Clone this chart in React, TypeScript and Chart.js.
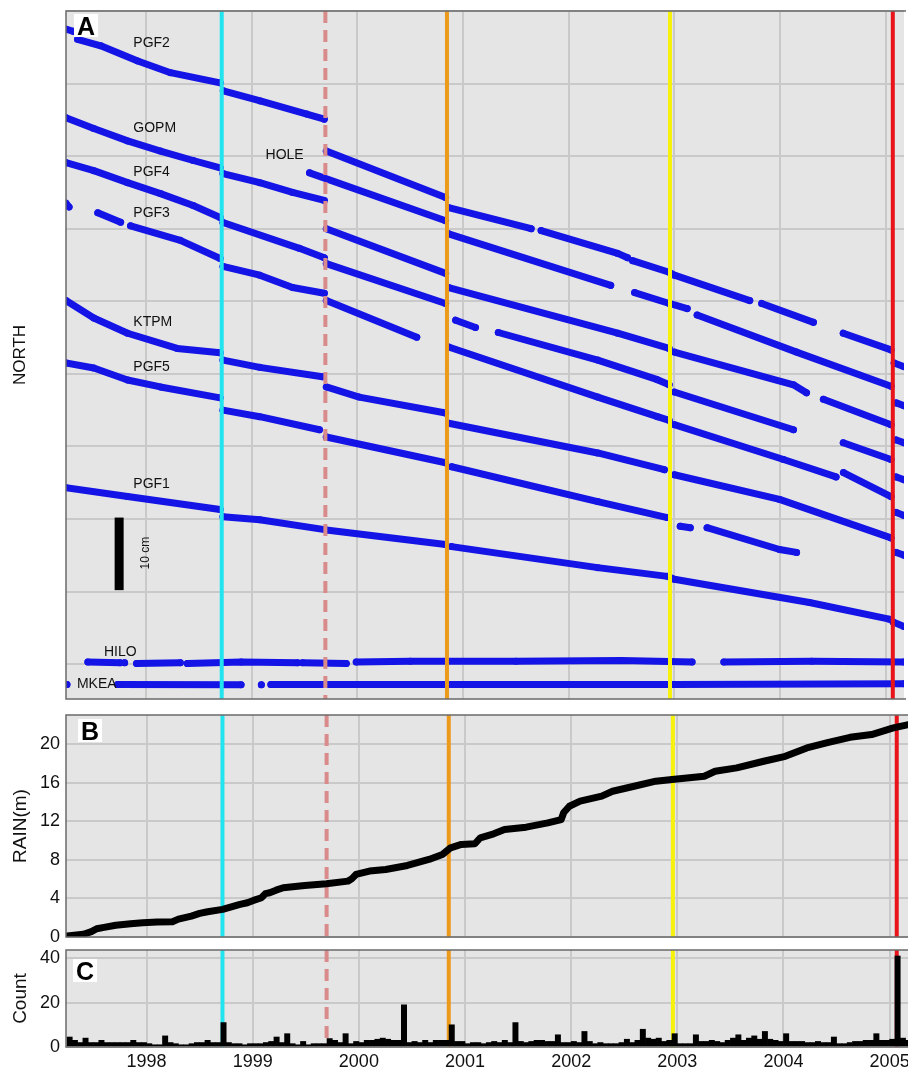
import React, { useEffect, useRef } from "react";
import { Chart, registerables } from "chart.js";

Chart.register(...registerables);

type Pt = [number, number] | null;

// ---------------- data ----------------
const X_MIN = 1997.241;
const X_MAX = 2005.173;
const YEAR_TICKS = [1998, 1999, 2000, 2001, 2002, 2003, 2004, 2005];

const EVENT_YEARS = [1998.715, 1999.696, 2000.847, 2002.958, 2005.067];

const NORTH_TICKS = [0, 10, 20, 30, 40, 50, 60, 70, 80, 90];
const RAIN_TICKS = [0, 4, 8, 12, 16, 20];
const COUNT_TICKS = [0, 20, 40];

// GPS north position (cm, arbitrary offsets per station), null = data gap
const PGF2: Pt[] = [
  [1997.24, 87.5], [1997.31, 87.2], null,
  [1997.35, 86.1], [1997.57, 85.2], [1997.92, 83.1], [1998.23, 81.5], [1998.7, 80.1], null,
  [1998.73, 79.0], [1999.08, 77.6], [1999.52, 75.8], [1999.686, 75.1], null,
  [1999.705, 70.7], [2000.834, 64.3], null,
  [2000.863, 62.9], [2001.644, 60.0], null,
  [2001.738, 59.75], [2002.463, 56.6], [2002.557, 56.0], null,
  [2002.604, 55.6], [2002.95, 54.0], [2003.0, 53.6], [2003.713, 50.1], null,
  [2003.826, 49.7], [2004.316, 47.1], null,
  [2004.598, 45.6], [2005.05, 43.3], null,
  [2005.08, 41.5], [2005.173, 41.0],
];
const GOPM: Pt[] = [
  [1997.241, 75.3], [1997.504, 73.8], [1997.824, 72.1], [1998.135, 70.7], [1998.445, 69.4], [1998.7, 68.4], null,
  [1998.727, 67.6], [1999.075, 66.35], [1999.386, 65.0], [1999.686, 63.9], null,
  [1999.705, 60.0], [2000.834, 53.85], null,
  [2000.863, 51.9], [2002.463, 45.6], [2002.95, 43.5], null,
  [2002.999, 43.0], [2004.127, 38.5], [2004.25, 37.4], null,
  [2004.41, 36.5], [2005.05, 33.0], null,
  [2005.1, 30.9], [2005.173, 30.5],
];
const HOLE: Pt[] = [
  [1999.546, 67.7], [2000.834, 61.1], null,
  [2000.863, 59.3], [2002.397, 52.2], null,
  [2002.623, 51.2], [2002.952, 49.7], [2003.121, 49.0], null,
  [2003.215, 48.1], [2004.156, 43.0], [2005.05, 38.3], null,
  [2005.1, 36.0], [2005.173, 35.6],
];
const PGF4: Pt[] = [
  [1997.241, 69.1], [1997.504, 68.0], [1997.824, 66.35], [1998.135, 64.84], [1998.445, 63.19], [1998.7, 61.54], null,
  [1998.727, 60.85], [1999.45, 57.3], [1999.686, 56.0], null,
  [1999.705, 55.2], [2000.834, 49.7], null,
  [2000.929, 47.4], [2001.117, 46.4], null,
  [2001.333, 45.7], [2002.274, 41.9], [2002.839, 39.2], [2002.95, 38.5], null,
  [2002.999, 37.5], [2004.127, 32.3], null,
  [2004.598, 30.5], [2005.05, 28.2], null,
  [2005.1, 25.8], [2005.173, 25.4],
];
const PGF3: Pt[] = [
  [1997.241, 63.5], [1997.27, 63.0], null,
  [1997.542, 62.2], [1997.758, 60.9], null,
  [1997.852, 60.4], [1998.323, 58.4], [1998.7, 55.9], null,
  [1998.727, 54.8], [1999.075, 53.6], [1999.386, 51.9], [1999.686, 51.1], null,
  [1999.705, 50.1], [2000.561, 45.05], null,
  [2000.863, 43.7], [2002.274, 36.8], [2002.839, 34.1], [2002.95, 33.6], null,
  [2002.999, 33.0], [2004.033, 28.2], [2004.53, 25.8], null,
  [2004.6, 26.4], [2005.05, 23.1], null,
  [2005.1, 20.9], [2005.173, 20.5],
];
const KTPM: Pt[] = [
  [1997.241, 50.1], [1997.504, 47.7], [1997.824, 45.6], [1998.294, 43.5], [1998.7, 42.9], null,
  [1998.727, 41.9], [1999.075, 40.9], [1999.668, 39.6], null,
  [1999.705, 38.2], [2000.016, 36.8], [2000.834, 34.6], null,
  [2000.863, 33.2], [2002.274, 29.1], [2002.905, 26.8], null,
  [2002.999, 26.1], [2003.995, 22.7], [2005.05, 17.4], null,
  [2005.1, 15.4], [2005.173, 15.0],
];
const PGF5: Pt[] = [
  [1997.241, 41.5], [1997.504, 40.8], [1997.824, 39.15], [1998.135, 38.2], [1998.7, 36.7], null,
  [1998.727, 35.0], [1999.075, 34.1], [1999.64, 32.3], null,
  [1999.705, 31.3], [2000.834, 27.75], null,
  [2000.891, 27.2], [2002.274, 22.4], [2002.933, 20.2], null,
  [2003.055, 19.0], [2003.15, 18.8], null,
  [2003.309, 18.8], [2003.995, 15.8], [2004.156, 15.4],
];
const PGF1: Pt[] = [
  [1997.241, 24.3], [1997.824, 23.1], [1998.7, 21.3], null,
  [1998.727, 20.3], [1999.075, 19.9], [1999.705, 18.5], [2000.834, 16.5], null,
  [2000.891, 16.2], [2002.274, 13.3], [2002.933, 12.1], [2002.999, 11.7], [2004.278, 8.5], [2005.033, 6.2], null,
  [2005.07, 5.8], [2005.173, 5.2],
];
const HILO: Pt[] = [
  [1997.448, 0.3], [1997.754, 0.2], null,
  [1997.796, 0.2], null,
  [1997.909, 0.1], [1998.323, 0.2], null,
  [1998.389, 0.1], [1998.9, 0.3], [1999.433, 0.2], null,
  [1999.48, 0.2], [1999.894, 0.1], null,
  [1999.988, 0.3], [2000.5, 0.4], [2001.5, 0.4], [2002.5, 0.5], [2003.167, 0.3], null,
  [2003.468, 0.3], [2004.3, 0.4], [2005.173, 0.3],
];
const MKEA: Pt[] = [
  [1997.25, -2.8], null,
  [1997.73, -2.8], [1998.898, -2.85], null,
  [1999.09, -2.85], null,
  [1999.18, -2.8], [2001.0, -2.8], [2003.0, -2.8], [2005.173, -2.7],
];

const STATION_NAMES = ["PGF2", "GOPM", "HOLE", "PGF4", "PGF3", "KTPM", "PGF5", "PGF1", "HILO", "MKEA"];
const STATION_SERIES = [PGF2, GOPM, HOLE, PGF4, PGF3, KTPM, PGF5, PGF1, HILO, MKEA];

// Cumulative rain (m)
const RAIN_YEAR = [
  1997.252, 1997.405, 1997.48, 1997.53, 1997.6, 1997.71, 1997.85, 1997.964, 1998.1, 1998.244,
  1998.3, 1998.422, 1998.5, 1998.575, 1998.717, 1998.88, 1998.95, 1999.007, 1999.083, 1999.12,
  1999.16, 1999.22, 1999.287, 1999.49, 1999.694, 1999.897, 1999.93, 1999.973, 2000.1, 2000.253,
  2000.457, 2000.66, 2000.787, 2000.864, 2000.965, 2001.093, 2001.144, 2001.27, 2001.372, 2001.576,
  2001.78, 2001.906, 2001.93, 2001.983, 2002.084, 2002.288, 2002.39, 2002.593, 2002.797, 2002.95,
  2003.254, 2003.356, 2003.56, 2003.814, 2004.017, 2004.22, 2004.424, 2004.627, 2004.83, 2005.035,
  2005.177,
];
const RAIN_M = [
  0.1, 0.28, 0.55, 0.85, 1.0, 1.22, 1.38, 1.48, 1.55, 1.59,
  1.85, 2.17, 2.45, 2.62, 2.86, 3.38, 3.55, 3.79, 4.07, 4.5,
  4.59, 4.85, 5.1, 5.34, 5.52, 5.79, 6.0, 6.48, 6.83, 7.0,
  7.41, 8.03, 8.55, 9.24, 9.59, 9.66, 10.28, 10.69, 11.14, 11.38,
  11.83, 12.17, 12.9, 13.55, 14.07, 14.59, 15.1, 15.62, 16.14, 16.31,
  16.66, 17.17, 17.52, 18.21, 18.72, 19.59, 20.17, 20.69, 20.97, 21.66,
  22.0,
];

// Earthquake count per bin
const COUNT_BIN_START = 1997.25;
const COUNT_BIN_WIDTH = 0.05;
const COUNT = [
  4.5, 3, 2, 4, 2, 2, 3, 2, 2, 2, 2, 2, 3, 2, 2, 1.5, 1, 1, 5, 2,
  1.5, 1, 1, 1.5, 2, 2, 3, 2, 2, 11, 2, 1.5, 1.5, 1, 1.5, 1.5, 1.5, 2, 2.5, 4.5,
  2, 6, 1.5, 1, 2.5, 1, 1.5, 1.5, 1.5, 3.8, 3, 2, 6, 1.5, 2.5, 2, 3, 3, 3.5, 4,
  3.5, 3, 3, 19, 2, 2.5, 2, 3, 2, 3, 3, 3, 10, 2.5, 2.5, 1.5, 2, 2, 1.5, 2,
  2.5, 2, 3, 2, 11, 2.5, 2, 2.5, 3, 3, 2.5, 2.5, 5.5, 2, 2, 2.5, 2, 7, 2.5, 1.5,
  2, 1.5, 1.5, 1.5, 2, 3.5, 2, 3, 8, 4, 3.5, 4, 2.5, 3, 6, 1.5, 1.5, 1.5, 5.5, 2.5,
  2.5, 3, 2.5, 2, 3, 4, 5.5, 3, 4, 5, 3.5, 7, 3.5, 3, 2.5, 6, 2.5, 2.5, 2.5, 2,
  2, 2.5, 2, 2, 4.5, 1.5, 1.5, 2, 2.5, 2.5, 3, 3, 6, 3, 3, 3.5, 41, 4, 3,
];

// ---------------- layout / style ----------------
const FONT = '"Liberation Sans", Arial, Helvetica, sans-serif';
const BG = "#e5e5e5";
const GRID = "#c9c9c9";
const FRAME = "#6a6a6a";
const BLUE = "#1414e6";
const EVENT_COLORS = ["#22e4ef", "#d98a8a", "#ec9a1c", "#f6f20c", "#e8141a"];
const EVENT_DASHED = [false, true, false, false, false];
const AXIS_W = 66;

// label anchors in data coordinates (year, cm): left edge / vertical middle
const LABEL_POS: [number, number][] = [
  [1997.878, 85.6], [1997.878, 73.8], [1999.13, 70.15], [1997.878, 67.76], [1997.878, 62.13],
  [1997.878, 47.16], [1997.878, 40.98], [1997.878, 24.86], [1997.6, 1.65], [1997.344, -2.8],
];
const SCALE_BAR_YEAR = 1997.744;
const SCALE_BAR_FROM = 10.2;
const SCALE_BAR_TO = 20.2;
const SCALE_TEXT_POS: [number, number] = [1998.0, 15.3];

Chart.defaults.font.family = FONT;
Chart.defaults.color = "#111";

function toXY(pts: Pt[]) {
  const out: { x: number; y: number | null }[] = [];
  let lastX = X_MIN;
  for (const p of pts) {
    if (p) {
      out.push({ x: p[0], y: p[1] });
      lastX = p[0];
    } else out.push({ x: lastX, y: null });
  }
  return out;
}

function xScale(showLabels: boolean, height: number): any {
  return {
    type: "linear",
    min: X_MIN,
    max: X_MAX,
    offset: false,
    afterBuildTicks: (s: any) => {
      s.ticks = YEAR_TICKS.map((v) => ({ value: v }));
    },
    ticks: {
      display: showLabels,
      autoSkip: false,
      maxRotation: 0,
      minRotation: 0,
      padding: 4,
      font: { size: 18 },
      color: "#111",
      callback: (v: any) => String(v),
    },
    grid: { color: GRID, lineWidth: 2, drawTicks: false, offset: false },
    border: { display: false },
    afterFit: (s: any) => {
      s.height = height;
      s.paddingLeft = 0;
      s.paddingRight = 0;
    },
  };
}

function yScale(min: number, max: number, ticks: number[], showLabels: boolean, title: string, titleSize: number, titlePad: number): any {
  return {
    type: "linear",
    min,
    max,
    afterBuildTicks: (s: any) => {
      s.ticks = ticks.map((v) => ({ value: v }));
    },
    ticks: { display: showLabels, padding: 6, font: { size: 18 }, color: "#111", autoSkip: false },
    grid: { color: GRID, lineWidth: 2, drawTicks: false },
    border: { display: false },
    title: { display: true, text: title, font: { size: titleSize }, color: "#111", padding: { top: titlePad, bottom: 0 } },
    afterFit: (s: any) => {
      s.width = AXIS_W;
      s.paddingTop = 0;
      s.paddingBottom = 0;
    },
  };
}

function drawEvents(chart: any) {
  const { ctx, chartArea, scales } = chart;
  ctx.save();
  EVENT_YEARS.forEach((yr, i) => {
    const px = scales.x.getPixelForValue(yr);
    ctx.beginPath();
    ctx.strokeStyle = EVENT_COLORS[i];
    ctx.lineWidth = 4;
    ctx.setLineDash(EVENT_DASHED[i] ? [12, 7] : []);
    ctx.moveTo(px, chartArea.top);
    ctx.lineTo(px, chartArea.bottom);
    ctx.stroke();
  });
  ctx.restore();
}

function framePlugin(letter: string, dx: number, baseDy: number, eventsOnTop: boolean): any {
  return {
    id: "frame" + letter,
    beforeDraw(chart: any) {
      const { ctx, chartArea: a } = chart;
      ctx.save();
      ctx.fillStyle = BG;
      ctx.fillRect(a.left, a.top, a.right - a.left, a.bottom - a.top);
      ctx.restore();
    },
    beforeDatasetsDraw(chart: any) {
      if (!eventsOnTop) drawEvents(chart);
    },
    afterDatasetsDraw(chart: any) {
      if (eventsOnTop) drawEvents(chart);
    },
    afterDraw(chart: any) {
      const { ctx, chartArea: a } = chart;
      ctx.save();
      ctx.strokeStyle = FRAME;
      ctx.lineWidth = 1.5;
      ctx.beginPath();
      ctx.moveTo(a.right + 2, a.top);
      ctx.lineTo(a.left, a.top);
      ctx.lineTo(a.left, a.bottom);
      ctx.lineTo(a.right + 2, a.bottom);
      ctx.stroke();
      // panel letter
      ctx.font = `bold 25px ${FONT}`;
      const w = ctx.measureText(letter).width;
      const x = a.left + dx;
      const by = a.top + baseDy;
      ctx.fillStyle = "#fff";
      ctx.fillRect(x - 3, by - 21, w + 6, 23);
      ctx.fillStyle = "#000";
      ctx.textBaseline = "alphabetic";
      ctx.fillText(letter, x, by);
      ctx.restore();
    },
  };
}

const annotationsA: any = {
  id: "annotA",
  afterDatasetsDraw(chart: any) {
    const { ctx, scales } = chart;
    const x = scales.x;
    const y = scales.y;
    ctx.save();
    ctx.font = `14px ${FONT}`;
    ctx.fillStyle = "#111";
    ctx.textBaseline = "middle";
    ctx.textAlign = "left";
    STATION_NAMES.forEach((name, i) => {
      const [lx, ly] = LABEL_POS[i];
      ctx.fillText(name, x.getPixelForValue(lx), y.getPixelForValue(ly));
    });
    const bx = x.getPixelForValue(SCALE_BAR_YEAR);
    const y1 = y.getPixelForValue(SCALE_BAR_FROM);
    const y2 = y.getPixelForValue(SCALE_BAR_TO);
    ctx.fillStyle = "#000";
    ctx.fillRect(bx - 4.5, y2, 9, y1 - y2);
    ctx.translate(x.getPixelForValue(SCALE_TEXT_POS[0]), y.getPixelForValue(SCALE_TEXT_POS[1]));
    ctx.rotate(-Math.PI / 2);
    ctx.font = `12px ${FONT}`;
    ctx.textAlign = "center";
    ctx.fillStyle = "#111";
    ctx.fillText("10 cm", 0, 0);
    ctx.restore();
  },
};

const baseOpts = {
  responsive: false,
  animation: false,
  devicePixelRatio: 1,
  events: [],
  plugins: { legend: { display: false }, tooltip: { enabled: false } },
};

function makeA(canvas: HTMLCanvasElement) {
  return new Chart(canvas, {
    type: "line",
    data: {
      datasets: STATION_SERIES.map((s, i) => ({
        label: STATION_NAMES[i],
        data: toXY(s),
        borderColor: BLUE,
        backgroundColor: BLUE,
        borderWidth: 7,
        pointRadius: 3.5,
        pointBorderWidth: 0,
        pointBackgroundColor: BLUE,
        borderCapStyle: "round",
        borderJoinStyle: "round",
        spanGaps: false,
        tension: 0,
      })) as any,
    },
    options: {
      ...baseOpts,
      layout: { padding: { top: 3, bottom: 3, left: 0, right: 0 } },
      scales: { x: xScale(false, 0), y: yScale(-4.8, 90, NORTH_TICKS, false, "NORTH", 17, 10) },
    } as any,
    plugins: [framePlugin("A", 11, 24, true), annotationsA],
  });
}

function makeB(canvas: HTMLCanvasElement) {
  return new Chart(canvas, {
    type: "line",
    data: {
      datasets: [
        {
          label: "RAIN",
          data: RAIN_YEAR.map((t, i) => ({ x: t, y: RAIN_M[i] })),
          borderColor: "#000",
          borderWidth: 7,
          pointRadius: 0,
          borderCapStyle: "round",
          borderJoinStyle: "round",
          tension: 0,
        },
      ] as any,
    },
    options: {
      ...baseOpts,
      layout: { padding: { top: 3, bottom: 20, left: 0, right: 0 } },
      scales: { x: xScale(false, 0), y: yScale(0, 23, RAIN_TICKS, true, "RAIN(m)", 19, 9) },
    } as any,
    plugins: [framePlugin("B", 15, 25, false)],
  });
}

function makeC(canvas: HTMLCanvasElement) {
  return new Chart(canvas, {
    type: "bar",
    data: {
      datasets: [
        {
          label: "Count",
          data: COUNT.map((v, i) => ({ x: COUNT_BIN_START + COUNT_BIN_WIDTH * (i + 0.5), y: v })),
          backgroundColor: "#000",
          borderWidth: 0,
          barPercentage: 1,
          categoryPercentage: 1,
        },
      ] as any,
    },
    options: {
      ...baseOpts,
      layout: { padding: { top: 3, bottom: 0, left: 0, right: 0 } },
      scales: { x: xScale(true, 24), y: yScale(0, 43.7, COUNT_TICKS, true, "Count", 19, 9) },
    } as any,
    plugins: [framePlugin("C", 10, 30, false)],
  });
}

export default function App() {
  const refA = useRef<HTMLCanvasElement>(null);
  const refB = useRef<HTMLCanvasElement>(null);
  const refC = useRef<HTMLCanvasElement>(null);

  useEffect(() => {
    const charts = [makeA(refA.current!), makeB(refB.current!), makeC(refC.current!)];
    return () => charts.forEach((c) => c.destroy());
  }, []);

  return (
    <div style={{ position: "fixed", left: 0, top: 0, width: 908, height: 1071, background: "#fff", overflow: "hidden" }}>
      <canvas ref={refA} width={908} height={696} style={{ position: "absolute", left: 0, top: 7, width: 908, height: 696 }} />
      <canvas ref={refB} width={908} height={245} style={{ position: "absolute", left: 0, top: 712, width: 908, height: 245 }} />
      <canvas ref={refC} width={908} height={124} style={{ position: "absolute", left: 0, top: 947, width: 908, height: 124 }} />
    </div>
  );
}
